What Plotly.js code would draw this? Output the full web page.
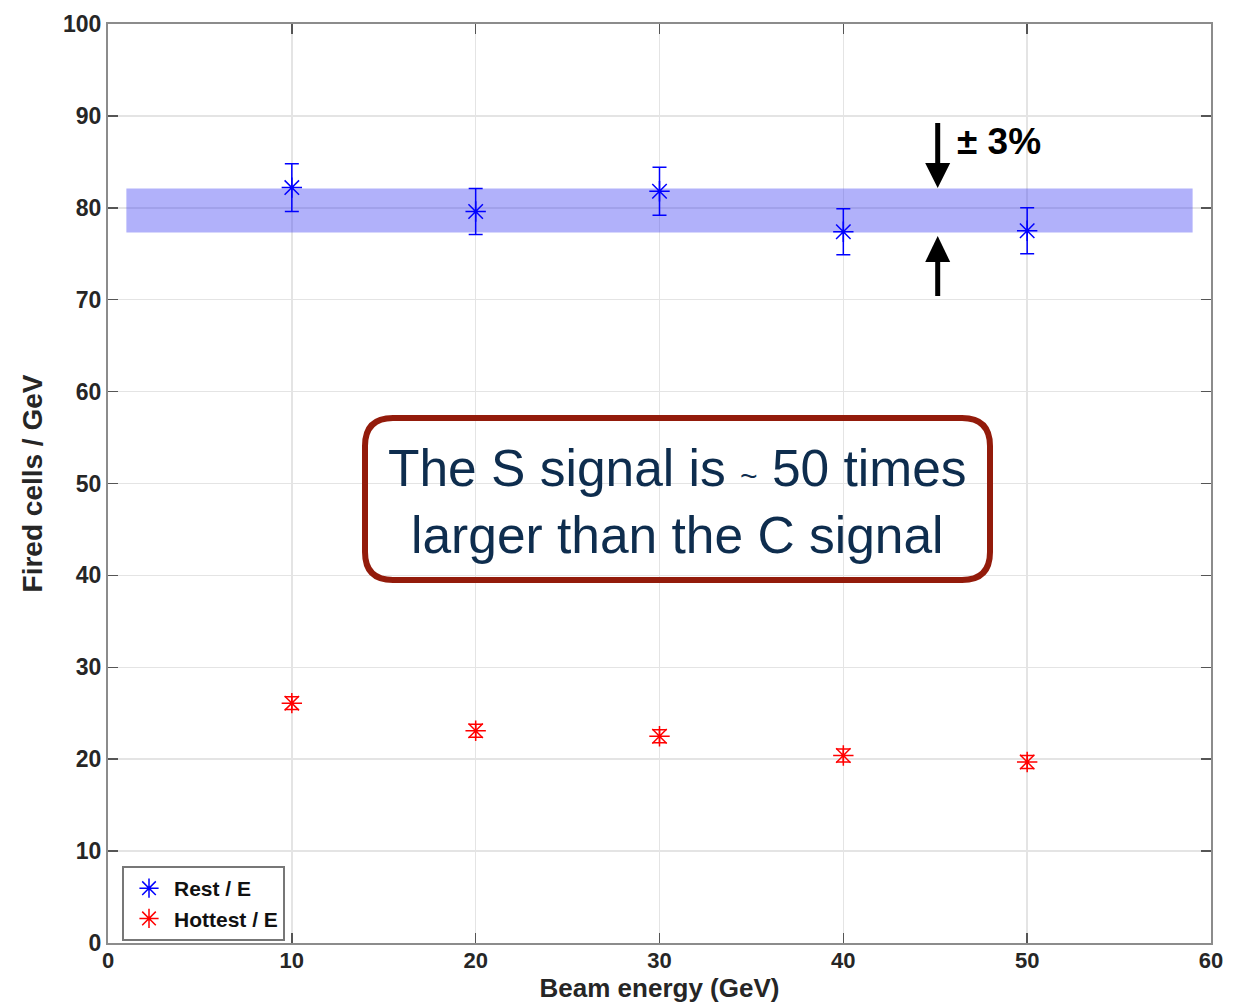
<!DOCTYPE html>
<html>
<head>
<meta charset="utf-8">
<script src="https://cdn.plot.ly/plotly-3.0.1.min.js"></script>
<style>html,body{margin:0;padding:0;background:#fff;}#chart{width:1250px;height:1003px;}</style>
</head>
<body>
<div id="chart"></div>
<script>
// ---- data ----
const beamEnergy = [10, 20, 30, 40, 50];
const restPerE = [82.2, 79.6, 81.8, 77.4, 77.5];
const restErr = [2.6, 2.5, 2.6, 2.5, 2.5];
const hottestPerE = [26.1, 23.1, 22.5, 20.4, 19.7];
const hottestErr = [0.7, 0.7, 0.7, 0.7, 0.7];
const bandCenter = 79.7;
const bandFraction = 0.03;
const bandXRange = [1, 59];
const seriesNames = ['Rest / E', 'Hottest / E'];
const xTicks = [0, 10, 20, 30, 40, 50, 60];
const yTicks = [0, 10, 20, 30, 40, 50, 60, 70, 80, 90, 100];

// ---- layout geometry ----
const W = 1250, H = 1003;
const M = {l: 108, r: 39, t: 24, b: 60};
const xRange = [0, 60], yRange = [0, 100];
const pw = W - M.l - M.r, ph = H - M.t - M.b;
const px2x = p => xRange[0] + (p - M.l) / pw * (xRange[1] - xRange[0]);
const px2y = p => yRange[0] + (H - M.b - p) / ph * (yRange[1] - yRange[0]);

function roundRect(x0, y0, x1, y1, r) {
  const X = px2x, Y = px2y;
  return `M${X(x0+r)},${Y(y0)} L${X(x1-r)},${Y(y0)} Q${X(x1)},${Y(y0)} ${X(x1)},${Y(y0+r)} ` +
         `L${X(x1)},${Y(y1-r)} Q${X(x1)},${Y(y1)} ${X(x1-r)},${Y(y1)} ` +
         `L${X(x0+r)},${Y(y1)} Q${X(x0)},${Y(y1)} ${X(x0)},${Y(y1-r)} ` +
         `L${X(x0)},${Y(y0+r)} Q${X(x0)},${Y(y0)} ${X(x0+r)},${Y(y0)} Z`;
}
function tri(ax, ay, bx, by, cx, cy) {
  return `M${px2x(ax)},${px2y(ay)} L${px2x(bx)},${px2y(by)} L${px2x(cx)},${px2y(cy)} Z`;
}

const FONT = 'Liberation Sans, Arial, Helvetica, sans-serif';

const traces = [
  {
    x: beamEnergy, y: restPerE, name: seriesNames[0], type: 'scatter', mode: 'markers',
    marker: {symbol: 'asterisk-open', size: 17, color: '#0000ff', line: {color: '#0000ff', width: 1.5}},
    error_y: {type: 'data', array: restErr, visible: true, color: '#0000ff', thickness: 1.5, width: 7}
  },
  {
    x: beamEnergy, y: hottestPerE, name: seriesNames[1], type: 'scatter', mode: 'markers',
    marker: {symbol: 'asterisk-open', size: 17, color: '#ff0000', line: {color: '#ff0000', width: 1.5}},
    error_y: {type: 'data', array: hottestErr, visible: true, color: '#ff0000', thickness: 1.5, width: 7}
  }
];

const arrowX = 937.7;
const shapes = [
  {type: 'rect', xref: 'x', yref: 'y', layer: 'between',
   x0: bandXRange[0], x1: bandXRange[1],
   y0: bandCenter * (1 - bandFraction), y1: bandCenter * (1 + bandFraction),
   fillcolor: 'rgba(60,60,242,0.4)', line: {width: 0}},
  {type: 'path', xref: 'x', yref: 'y', layer: 'above',
   path: roundRect(365, 418, 990, 580, 28), fillcolor: 'rgba(255,255,255,0)',
   line: {color: '#931b0b', width: 6}},
  // down arrow
  {type: 'line', xref: 'x', yref: 'y', x0: px2x(arrowX), x1: px2x(arrowX), y0: px2y(123), y1: px2y(166),
   line: {color: '#000', width: 5}},
  {type: 'path', xref: 'x', yref: 'y', path: tri(arrowX - 12.5, 163, arrowX + 12.5, 163, arrowX, 188),
   fillcolor: '#000', line: {width: 0}},
  // up arrow
  {type: 'line', xref: 'x', yref: 'y', x0: px2x(arrowX), x1: px2x(arrowX), y0: px2y(259), y1: px2y(296),
   line: {color: '#000', width: 5}},
  {type: 'path', xref: 'x', yref: 'y', path: tri(arrowX - 12.5, 262, arrowX + 12.5, 262, arrowX, 236),
   fillcolor: '#000', line: {width: 0}}
];

const annotations = [
  {xref: 'x', yref: 'y', x: px2x(677.5), y: px2y(501), showarrow: false,
   xanchor: 'center', yanchor: 'middle', align: 'center',
   text: 'The S signal is <span style="font-size:30px">~</span> 50 times<br>larger than the C signal',
   font: {family: FONT, size: 51.5, color: '#0e2d4e'}},
  {xref: 'x', yref: 'y', x: px2x(998.5), y: px2y(141), showarrow: false,
   xanchor: 'center', yanchor: 'middle',
   text: '<b>± 3%</b>', font: {family: FONT, size: 37, color: '#000'}}
];

const axisCommon = {
  showline: true, linecolor: '#8c8c8c', linewidth: 2, mirror: 'ticks',
  ticks: 'inside', ticklen: 10, tickwidth: 1.5, tickcolor: '#555',
  showgrid: true, gridcolor: '#e4e4e4', gridwidth: 1.5, zeroline: false,
  tickfont: {family: FONT, size: 23, color: '#262626', weight: 'bold'},
  fixedrange: true
};

const layout = {
  width: W, height: H,
  margin: M,
  paper_bgcolor: '#fff', plot_bgcolor: '#fff',
  showlegend: true,
  legend: {x: 14 / pw, y: (H - M.b - 903.5) / ph, xanchor: 'left', yanchor: 'middle',
           bgcolor: '#fff', bordercolor: '#777', borderwidth: 2, itemwidth: 40,
           font: {family: FONT, size: 21, color: '#111', weight: 'bold'}},
  xaxis: Object.assign({}, axisCommon, {
    range: xRange, tickmode: 'array', tickvals: xTicks, ticktext: xTicks.map(String),
    ticklabelstandoff: -3,
    tickfont: {family: FONT, size: 22, color: '#262626', weight: 'bold'},
    title: {text: 'Beam energy (GeV)', standoff: 4, font: {family: FONT, size: 26, color: '#262626', weight: 'bold'}}
  }),
  yaxis: Object.assign({}, axisCommon, {
    range: yRange, tickmode: 'array', tickvals: yTicks, ticktext: yTicks.map(String),
    title: {text: 'Fired cells / GeV', standoff: 12, font: {family: FONT, size: 28, color: '#262626', weight: 'bold'}}
  }),
  shapes: shapes,
  annotations: annotations
};

Plotly.newPlot('chart', traces, layout, {displayModeBar: false, staticPlot: true});
</script>
</body>
</html>
